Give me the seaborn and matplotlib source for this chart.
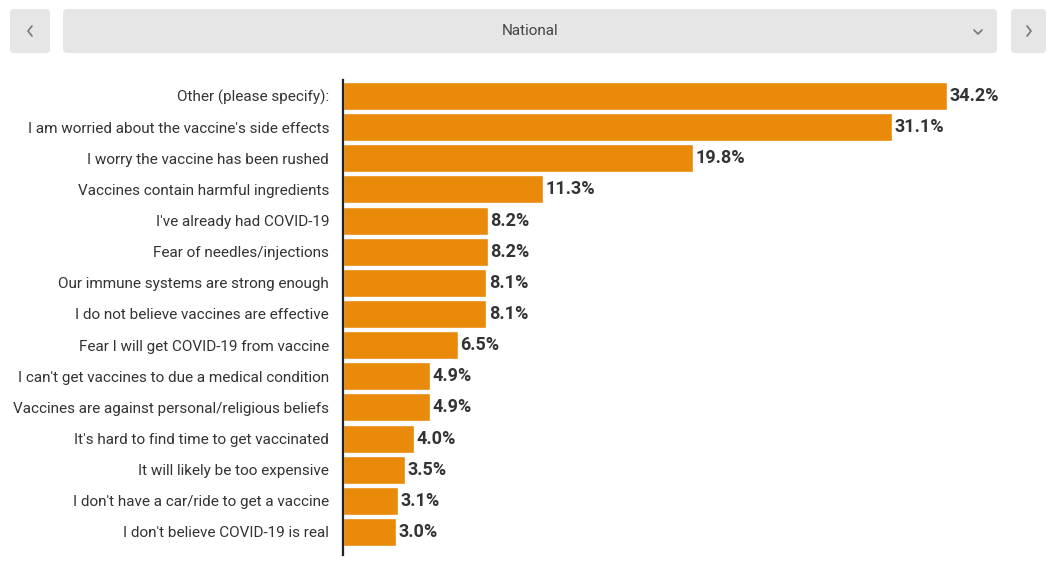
import matplotlib
matplotlib.use("Agg")
import matplotlib.pyplot as plt
from matplotlib.patches import FancyBboxPatch
import seaborn as sns
import pandas as pd

categories = [
    "Other (please specify):",
    "I am worried about the vaccine's side effects",
    "I worry the vaccine has been rushed",
    "Vaccines contain harmful ingredients",
    "I've already had COVID-19",
    "Fear of needles/injections",
    "Our immune systems are strong enough",
    "I do not believe vaccines are effective",
    "Fear I will get COVID-19 from vaccine",
    "I can't get vaccines to due a medical condition",
    "Vaccines are against personal/religious beliefs",
    "It's hard to find time to get vaccinated",
    "It will likely be too expensive",
    "I don't have a car/ride to get a vaccine",
    "I don't believe COVID-19 is real",
]
values = [34.2, 31.1, 19.8, 11.3, 8.2, 8.2, 8.1, 8.1, 6.5, 4.9, 4.9, 4.0, 3.5, 3.1, 3.0]
title = "National"

df = pd.DataFrame({"reason": categories, "pct": values})

sns.set_theme(style="white")
plt.rcParams["font.family"] = ["Roboto", "DejaVu Sans"]

W, H = 1051, 565
fig = plt.figure(figsize=(W / 100, H / 100), dpi=100)

# header controls
hdr = fig.add_axes([0, 0, 1, 1], zorder=0)
hdr.set_xlim(0, W)
hdr.set_ylim(H, 0)
hdr.axis("off")
for (x0, x1) in [(10, 50), (63, 997), (1011, 1046)]:
    hdr.add_patch(FancyBboxPatch((x0 + 4, 13), x1 - x0 - 8, 36,
                                 boxstyle="round,pad=4", fc="#e6e6e6", ec="none"))
hdr.text(530, 31, title, ha="center", va="center", fontsize=11, color="#444444")
hdr.plot([32, 28, 32], [26, 31, 36], color="#777777", lw=1.2)
hdr.plot([1027, 1031, 1027], [26, 31, 36], color="#777777", lw=1.2)
hdr.plot([974, 978, 982], [30, 34, 30], color="#777777", lw=1.2)

# chart
ax_left, ax_right = 343, 1040
ax_top, ax_bot = 80, 555
ax = fig.add_axes([ax_left / W, 1 - ax_bot / H, (ax_right - ax_left) / W,
                   (ax_bot - ax_top) / H], zorder=1)
ax.patch.set_alpha(0)
sns.barplot(data=df, x="pct", y="reason", orient="h", color="#E98A0A",
            saturation=1, width=0.9, ax=ax)
px_per = (947 - 343) / 34.2
ax.set_xlim(0, (ax_right - ax_left) / px_per)
ax.set_ylim(14.74, -0.514)
ax.set_xlabel("")
ax.set_ylabel("")
ax.set_xticks([])
for s in ["top", "right", "bottom"]:
    ax.spines[s].set_visible(False)
ax.spines["left"].set_color("#222222")
ax.spines["left"].set_linewidth(1.6)
ax.tick_params(axis="y", length=0, pad=10, labelsize=10.95, labelcolor="#333333")
for i, v in enumerate(values):
    ax.text(v + 0.15, i, f"{v:.1f}%", va="center", ha="left", fontsize=13,
            fontweight="bold", color="#333333")

fig.savefig("out.png", dpi=100)
